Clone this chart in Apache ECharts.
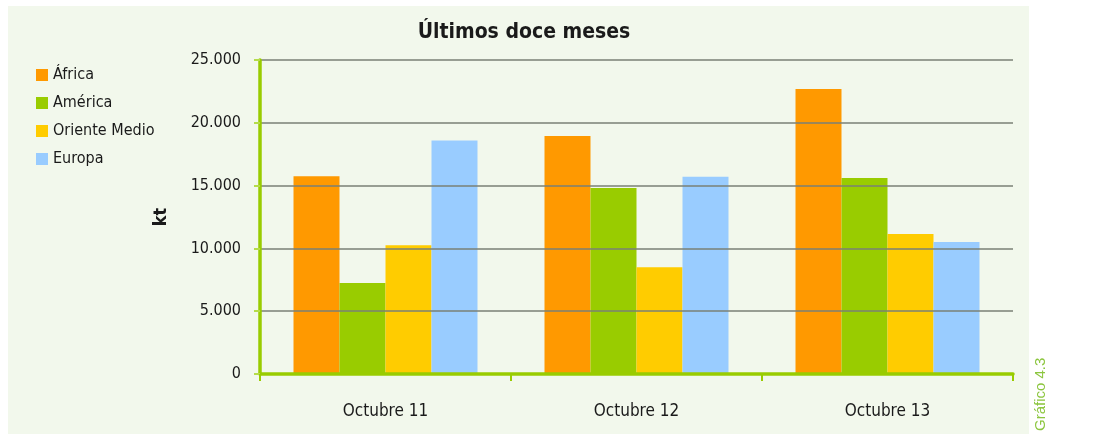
<!DOCTYPE html>
<html><head><meta charset="utf-8">
<script src="https://cdn.jsdelivr.net/npm/echarts@6/dist/echarts.min.js"></script>
<style>html,body{margin:0;padding:0;background:#fff}#c{width:1099px;height:434px}</style>
</head><body><div id="c"></div>
<script>
const categories = ['Octubre 11', 'Octubre 12', 'Octubre 13'];
const seriesNames = ['África', 'América', 'Oriente Medio', 'Europa'];
const africa = [15750, 18950, 22700];
const america = [7250, 14800, 15600];
const orienteMedio = [10250, 8500, 11150];
const europa = [18600, 15700, 10500];
const yTicks = [0, 5000, 10000, 15000, 20000, 25000];
const colors = ['#ff9900', '#99cc00', '#ffcc00', '#99ccff'];

const condensed = '"DejaVu Sans Condensed", "Liberation Sans Narrow", sans-serif';
const fmt = v => v === 0 ? '0' : String(v).replace(/\B(?=(\d{3})+(?!\d))/g, '.');
const data = [africa, america, orienteMedio, europa];

const chart = echarts.init(document.getElementById('c'));
chart.setOption({
  animation: false,
  backgroundColor: '#ffffff',
  graphic: [
    { type: 'rect', z: -10, shape: { x: 8, y: 6, width: 1021, height: 428 }, style: { fill: '#f2f8ec' } },
    { type: 'text', x: 1048, y: 431, rotation: Math.PI / 2,
      style: { text: 'Gráfico 4.3', fill: '#8cc63f', font: '15px "Liberation Sans", Arial, sans-serif', textAlign: 'left', textVerticalAlign: 'bottom' } }
  ],
  title: {
    text: 'Últimos doce meses', left: 519, top: 17, textAlign: 'center',
    textStyle: { fontFamily: condensed, fontWeight: 'bold', fontSize: 21, color: '#1a1a1a' }
  },
  legend: {
    orient: 'vertical', left: 31, top: 62, itemWidth: 12, itemHeight: 12, itemGap: 12,
    icon: 'rect',
    data: seriesNames,
    textStyle: { fontFamily: condensed, fontSize: 16, color: '#1a1a1a' }
  },
  grid: { left: 260, right: 86, top: 60, bottom: 60, containLabel: false },
  xAxis: {
    type: 'category', data: categories, z: 5,
    axisLine: { lineStyle: { color: '#99cc00', width: 3.5 } },
    axisTick: { show: true, length: 7, lineStyle: { color: '#99cc00', width: 2 } },
    axisLabel: { fontFamily: condensed, fontSize: 17, color: '#1a1a1a', margin: 29 }
  },
  yAxis: {
    type: 'value', min: 0, max: 25000, interval: 5000, z: 5,
    name: 'kt', nameLocation: 'middle', nameGap: 90, nameRotate: 90,
    nameTextStyle: { fontFamily: condensed, fontWeight: 'bold', fontSize: 18, color: '#1a1a1a' },
    axisLine: { show: true, lineStyle: { color: '#99cc00', width: 3.5 } },
    axisTick: { show: true, length: 6, lineStyle: { color: '#b5dc4a', width: 2 } },
    axisLabel: { fontFamily: condensed, fontSize: 16, color: '#1a1a1a', margin: 19,
      formatter: v => yTicks.includes(v) ? fmt(v) : '' },
    splitLine: { lineStyle: { color: '#7a8076', width: 1.5 } }
  },
  series: seriesNames.map((n, i) => ({
    name: n, type: 'bar', data: data[i],
    barGap: '0%', barCategoryGap: '26.7%',
    itemStyle: { color: colors[i] }
  }))
});
</script>
</body></html>
